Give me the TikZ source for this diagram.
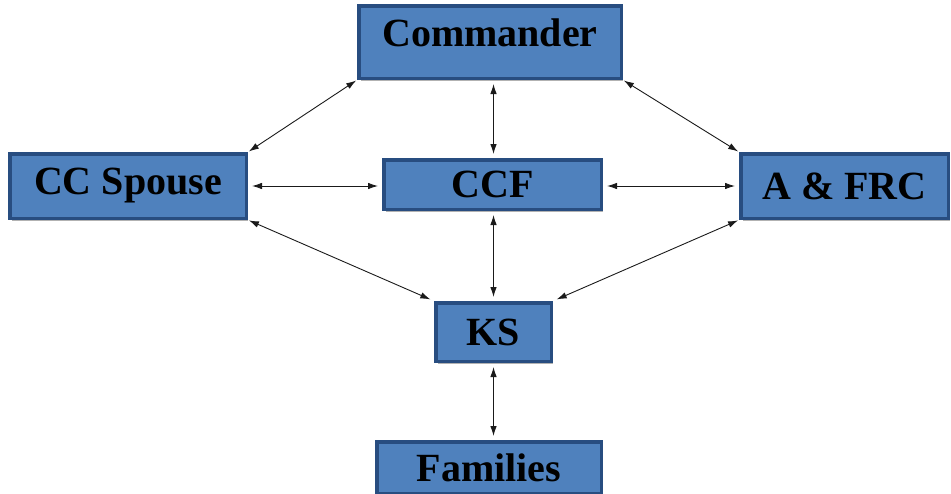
\documentclass[tikz,border=0pt]{standalone}
\usepackage{fontspec}
\setmainfont{Liberation Serif}
\usetikzlibrary{arrows.meta,shadows}
\definecolor{boxfill}{HTML}{4F81BD}
\definecolor{boxline}{HTML}{284D80}
\definecolor{arrowcol}{HTML}{1A1A1A}
\begin{document}
\begin{tikzpicture}[x=1pt,y=-1pt,
  box/.style={draw=boxline,fill=boxfill,line width=3.5pt,inner sep=0pt,
    font=\fontsize{40}{45}\selectfont\bfseries,text=black,
    drop shadow={shadow xshift=2pt,shadow yshift=-2.5pt,fill=black,opacity=0.3}},
  link/.style={draw=arrowcol,line width=0.9pt,{Latex[length=10pt,width=6.5pt]}-{Latex[length=10pt,width=6.5pt]}}
]
\useasboundingbox (0,0) rectangle (951,493);
\node[box,minimum width=262.5pt,minimum height=72.5pt,text depth=18pt] (cmd) at (490,42) {Commander};
\node[box,minimum width=236.5pt,minimum height=64.5pt] (ccs) at (128,186) {CC Spouse};
\node[box,minimum width=217.5pt,minimum height=49.5pt] (ccf) at (492.5,184.5) {CCF};
\node[box,minimum width=207.5pt,minimum height=64.5pt] (afrc) at (844.5,186) {A \& FRC};
\node[box,minimum width=115.5pt,minimum height=58.5pt] (ks) at (493.5,332) {KS};
\node[box,minimum width=224.5pt,minimum height=51.5pt] (fam) at (489,467.5) {Families};

\draw[link,shorten <=1pt,shorten >=1pt] (cmd.south west) -- (ccs.north east);
\draw[link,shorten <=4pt,shorten >=4pt] (cmd.south -| ks.north) -- (ccf.north -| ks.north);
\draw[link,shorten <=1pt,shorten >=1pt] (cmd.south east) -- (afrc.north west);
\draw[link,shorten <=4pt,shorten >=4pt] (ccs.east) -- (ccs.east -| ccf.west);
\draw[link,shorten <=4pt,shorten >=4pt] (ccs.east -| ccf.east) -- (ccs.east -| afrc.west);
\draw[link,shorten <=1pt,shorten >=4pt] (ccs.south east) -- (ks.north west);
\draw[link,shorten <=4pt,shorten >=4pt] (ccf.south -| ks.north) -- (ks.north);
\draw[link,shorten <=1pt,shorten >=4pt] (afrc.south west) -- (ks.north east);
\draw[link,shorten <=4pt,shorten >=4pt] (ks.south) -- (fam.north -| ks.south);
\end{tikzpicture}
\end{document}
